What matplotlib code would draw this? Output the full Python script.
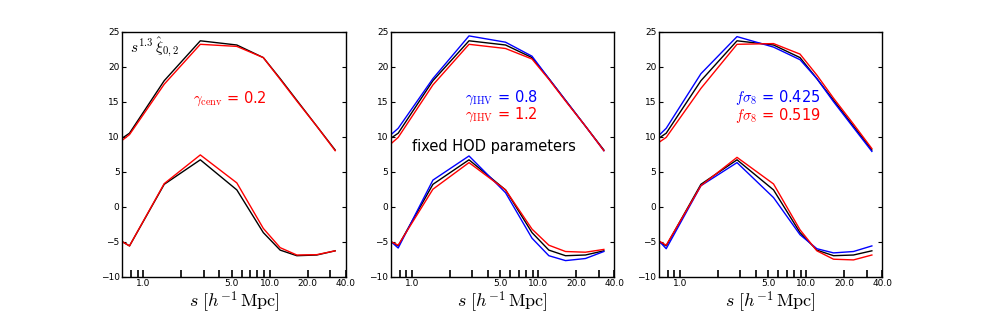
import numpy as np
import matplotlib
matplotlib.use("Agg")
import matplotlib.pyplot as plt
from matplotlib.ticker import FixedLocator, FixedFormatter, NullFormatter

plt.rcParams['mathtext.fontset'] = 'cm'
plt.rcParams['font.family'] = ['DejaVu Sans']

# separations (h^-1 Mpc)
s = [0.68, 0.775, 1.46, 2.82, 5.49, 8.9, 12.1, 16.4, 23.6, 33.0]

# fiducial model (black), monopole and quadrupole
xi0_fid = [9.8, 10.5, 18.0, 23.7, 23.1, 21.3, 18.3, 15.2, 11.5, 8.1]
xi2_fid = [-5.0, -5.6, 3.2, 6.7, 2.4, -3.7, -6.2, -7.0, -6.9, -6.3]

# panel 1: gamma_cenv = 0.2
xi0_cenv = [9.5, 10.3, 17.5, 23.2, 22.9, 21.3, 18.2, 15.1, 11.5, 8.0]
xi2_cenv = [-5.0, -5.6, 3.3, 7.4, 3.4, -3.1, -5.85, -6.9, -6.85, -6.3]

# panel 2: gamma_IHV = 0.8 (blue), 1.2 (red)
xi0_ihv_lo = [10.3, 11.2, 18.3, 24.4, 23.5, 21.5, 18.3, 15.2, 11.5, 8.0]
xi2_ihv_lo = [-5.0, -5.9, 3.8, 7.25, 2.0, -4.5, -7.0, -7.7, -7.4, -6.4]
xi0_ihv_hi = [9.0, 9.9, 17.4, 23.2, 22.6, 21.1, 18.2, 15.1, 11.5, 8.0]
xi2_ihv_hi = [-5.0, -5.5, 2.5, 6.3, 2.4, -3.2, -5.5, -6.4, -6.5, -6.1]

# panel 3: f sigma_8 = 0.425 (blue), 0.519 (red)
xi0_fs_lo = [10.2, 11.2, 19.0, 24.3, 22.8, 21.0, 18.3, 15.0, 11.3, 7.9]
xi2_fs_lo = [-4.9, -6.0, 3.0, 6.3, 1.3, -4.0, -6.0, -6.6, -6.4, -5.6]
xi0_fs_hi = [9.2, 9.9, 16.9, 23.2, 23.3, 21.8, 18.8, 15.5, 11.8, 8.3]
xi2_fs_hi = [-4.9, -5.5, 3.0, 7.05, 3.25, -3.3, -6.3, -7.5, -7.6, -6.9]

major_x = [1.0, 5.0, 10.0, 20.0, 40.0]
major_lbl = ["1.0", "5.0", "10.0", "20.0", "40.0"]
minor_x = [0.8, 0.9, 2, 3, 4, 6, 7, 8, 9, 30]
yticks = [-10, -5, 0, 5, 10, 15, 20, 25]

fig = plt.figure(figsize=(9.81, 3.17), dpi=100)
lefts = [0.1247, 0.3986, 0.6718]
axes = [fig.add_axes([l, 0.1271, 0.2277, 0.7729]) for l in lefts]

for ax in axes:
    ax.set_xscale('log')
    ax.set_xlim(0.68, 40)
    ax.set_ylim(-10, 25)
    ax.plot(s, xi0_fid, color='k', lw=1)
    ax.plot(s, xi2_fid, color='k', lw=1)
    ax.xaxis.set_major_locator(FixedLocator(major_x))
    ax.xaxis.set_major_formatter(FixedFormatter(major_lbl))
    ax.xaxis.set_minor_locator(FixedLocator(minor_x))
    ax.xaxis.set_minor_formatter(NullFormatter())
    ax.set_yticks(yticks)
    ax.tick_params(axis='x', which='both', direction='in', length=5, width=1.2,
                   labelsize=6.5, pad=2, top=False)
    ax.tick_params(axis='y', direction='in', length=3, width=0.8,
                   labelsize=6.5, pad=2, right=True)
    ax.set_xlabel(r"$s\ [h^{-1}\,\mathrm{Mpc}]$", fontsize=13, labelpad=1)
    for sp in ax.spines.values():
        sp.set_linewidth(1.0)

# panel 1
ax = axes[0]
ax.plot(s, xi0_cenv, color='r', lw=1)
ax.plot(s, xi2_cenv, color='r', lw=1)
ax.text(0.035, 0.935, r"$s^{1.3}\,\hat{\xi}_{0,2}$", transform=ax.transAxes,
        fontsize=11, va='center', ha='left')
ax.text(0.317, 0.725, r"$\gamma_{\rm cenv}$ = 0.2", transform=ax.transAxes,
        fontsize=10.5, color='r', va='center', ha='left')

# panel 2
ax = axes[1]
ax.plot(s, xi0_ihv_lo, color='b', lw=1)
ax.plot(s, xi2_ihv_lo, color='b', lw=1)
ax.plot(s, xi0_ihv_hi, color='r', lw=1)
ax.plot(s, xi2_ihv_hi, color='r', lw=1)
ax.text(0.331, 0.732, r"$\gamma_{\rm IHV}$ = 0.8", transform=ax.transAxes,
        fontsize=10.5, color='b', va='center', ha='left')
ax.text(0.331, 0.66, r"$\gamma_{\rm IHV}$ = 1.2", transform=ax.transAxes,
        fontsize=10.5, color='r', va='center', ha='left')
ax.text(0.093, 0.531, "fixed HOD parameters", transform=ax.transAxes,
        fontsize=10.5, color='k', va='center', ha='left')

# panel 3
ax = axes[2]
ax.plot(s, xi0_fs_lo, color='b', lw=1)
ax.plot(s, xi2_fs_lo, color='b', lw=1)
ax.plot(s, xi0_fs_hi, color='r', lw=1)
ax.plot(s, xi2_fs_hi, color='r', lw=1)
ax.text(0.34, 0.732, r"$f\sigma_8$ = 0.425", transform=ax.transAxes,
        fontsize=10.5, color='b', va='center', ha='left')
ax.text(0.34, 0.66, r"$f\sigma_8$ = 0.519", transform=ax.transAxes,
        fontsize=10.5, color='r', va='center', ha='left')

fig.savefig("out.png", dpi=100)
